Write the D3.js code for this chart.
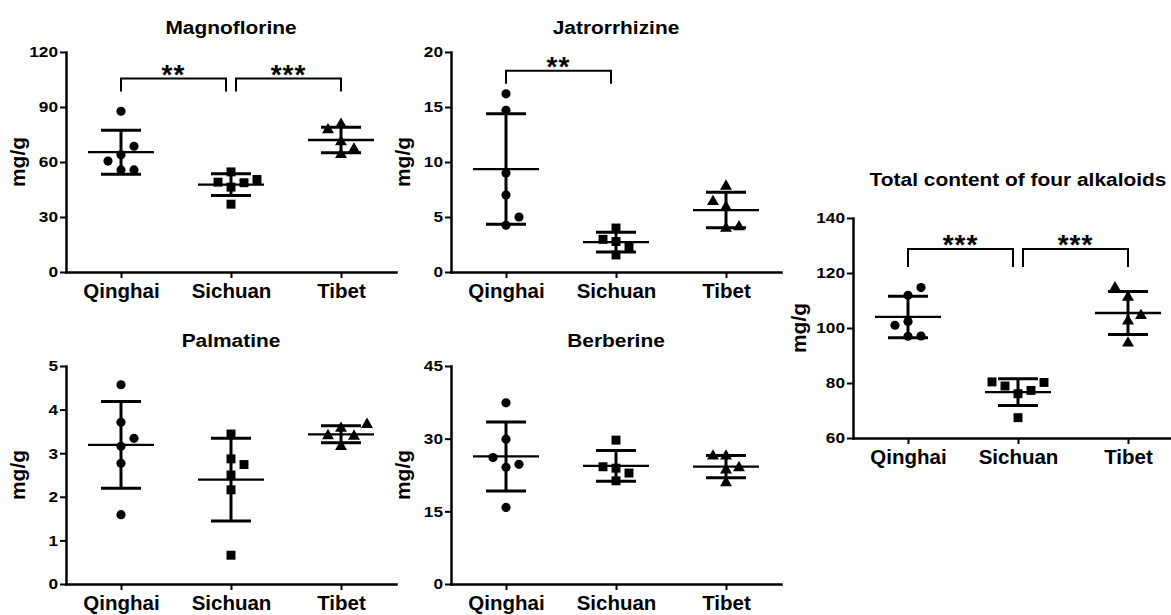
<!DOCTYPE html>
<html>
<head>
<meta charset="utf-8">
<script src="https://cdn.jsdelivr.net/npm/d3@7"></script>
<style>
  body { margin: 0; background: #fff; }
  text { font-family: Arial, "Liberation Sans", sans-serif; font-weight: bold; fill: #000; }
</style>
</head>
<body>
<svg id="chart" width="1171" height="615"></svg>
<script>
// categories
const regions = ["Qinghai", "Sichuan", "Tibet"];

// content (mg/g) per sample, one list per region
const magnoflorine   = [[87.7, 68.6, 64.0, 60.5, 55.7, 55.7], [54.6, 50.5, 49.0, 48.7, 46.3, 37.0], [80.5, 77.5, 71.0, 67.0, 64.0]];
const jatrorrhizine  = [[16.2, 14.7, 9.0, 7.0, 5.0, 4.25], [4.0, 2.97, 2.77, 2.3, 1.55], [7.8, 6.4, 5.9, 4.1, 3.97]];
const palmatine      = [[4.57, 3.71, 3.34, 3.16, 2.77, 1.59], [3.44, 2.87, 2.74, 2.5, 2.16, 0.66], [3.66, 3.57, 3.40, 3.39, 3.15]];
const berberine      = [[37.4, 29.9, 26.1, 24.7, 24.1, 15.8], [29.7, 24.2, 23.9, 22.9, 21.3], [26.4, 26.4, 24.0, 23.5, 20.9]];
const totalAlkaloids = [[114.7, 111.9, 102.4, 101.0, 97.1, 97.0], [80.4, 80.2, 78.9, 77.3, 76.1, 67.4], [114.6, 111.2, 104.5, 102.5, 94.5]];

// y tick labels
const magTicks = [0, 30, 60, 90, 120];
const jatTicks = [0, 5, 10, 15, 20];
const palTicks = [0, 1, 2, 3, 4, 5];
const berTicks = [0, 15, 30, 45];
const totTicks = [60, 80, 100, 120, 140];

// significance: [from, to, label, bracket level]
const magSig = [[0, 1, "**", 105.5], [1, 2, "***", 105.5]];
const jatSig = [[0, 1, "**", 18.3]];
const totSig = [[0, 1, "***", 128.7], [1, 2, "***", 128.7]];

const symbols = [d3.symbolCircle, d3.symbolSquare, d3.symbolTriangle];
const symbolSizes = [66, 80, 62];

const panels = [
  { title: "Magnoflorine", data: magnoflorine, ticks: magTicks, sig: magSig, x: [66, 396], y: [272, 52], titleY: 34, labelX: 25, leg: 13 },
  { title: "Jatrorrhizine", data: jatrorrhizine, ticks: jatTicks, sig: jatSig, x: [451, 781], y: [272, 52], titleY: 34, labelX: 410, leg: 13 },
  { title: "Palmatine", data: palmatine, ticks: palTicks, sig: [], x: [66, 396], y: [584, 366], titleY: 347, labelX: 25 },
  { title: "Berberine", data: berberine, ticks: berTicks, sig: [], x: [451, 781], y: [584, 366], titleY: 347, labelX: 410 },
  { title: "Total content of four alkaloids", data: totalAlkaloids, ticks: totTicks, sig: totSig, x: [853, 1183], y: [438, 218], titleY: 186, labelX: 806, leg: 18 }
];

const slotW = 13;    // horizontal step between side-by-side points
const minGap = 12;   // vertical distance below which points collide
const wide = 1.15;   // GraphPad text is a little wider than Liberation

// simple beeswarm: centre first, then the emptier side
function swarm(values, y) {
  const pts = values.map(v => ({ v: v, py: y(v) })).sort((a, b) => a.v - b.v);
  const placed = [];
  pts.forEach(p => {
    const free = k => placed.every(q => q.k !== k || Math.abs(q.py - p.py) >= minGap);
    let k = 0;
    if (!free(0)) {
      for (let d = 1; d < 10; d++) {
        const nL = placed.filter(q => q.k < 0).length;
        const nR = placed.filter(q => q.k > 0).length;
        const order = nL < nR ? [-d, d] : [d, -d];
        const hit = order.find(free);
        if (hit !== undefined) { k = hit; break; }
      }
    }
    p.k = k;
    placed.push(p);
  });
  return placed;
}

const svg = d3.select("#chart");

panels.forEach(p => {
  const g = svg.append("g");
  const x = d3.scalePoint().domain(regions).range(p.x).padding(0.5);
  const y = d3.scaleLinear().domain([p.ticks[0], p.ticks[p.ticks.length - 1]]).range(p.y);

  // axes
  const yAxis = g.append("g")
    .attr("transform", `translate(${p.x[0]},0)`)
    .call(d3.axisLeft(y).tickValues(p.ticks).tickFormat(d3.format("d")).tickSize(6).tickSizeOuter(0).tickPadding(2));
  const xAxis = g.append("g")
    .attr("transform", `translate(0,${p.y[0]})`)
    .call(d3.axisBottom(x).tickSize(6).tickSizeOuter(0).tickPadding(4));
  [yAxis, xAxis].forEach(a => {
    a.select(".domain").attr("stroke", "#000").attr("stroke-width", 2.5).attr("stroke-linecap", "square");
    a.selectAll(".tick line").attr("stroke", "#000").attr("stroke-width", 2);
  });
  yAxis.selectAll(".tick text")
    .attr("font-size", 15).attr("font-family", null)
    .attr("x", -8 / wide)
    .attr("transform", `scale(${wide},1)`);
  xAxis.selectAll(".tick text")
    .attr("font-size", 20.5).attr("font-family", null).attr("dy", "0.8em");

  // title and axis label
  g.append("text")
    .attr("transform", `translate(${x(regions[1])},${p.titleY}) scale(1.1,1)`)
    .attr("text-anchor", "middle")
    .attr("font-size", 19)
    .text(p.title);
  g.append("text")
    .attr("transform", `translate(${p.labelX},${(p.y[0] + p.y[1]) / 2}) rotate(-90)`)
    .attr("text-anchor", "middle")
    .attr("font-size", 21)
    .text("mg/g");

  // points, mean and SD
  p.data.forEach((vals, i) => {
    const cx = x(regions[i]);
    const grp = g.append("g");
    grp.selectAll("path.pt")
      .data(swarm(vals, y))
      .join("path")
      .attr("class", "pt")
      .attr("transform", d => `translate(${cx + d.k * slotW},${d.py})`)
      .attr("d", d3.symbol().type(symbols[i]).size(symbolSizes[i]))
      .attr("fill", "#000");

    const m = d3.mean(vals), sd = d3.deviation(vals);
    grp.append("line")
      .attr("x1", cx - 33).attr("x2", cx + 33)
      .attr("y1", y(m)).attr("y2", y(m))
      .attr("stroke", "#000").attr("stroke-width", 2.3);
    grp.append("line")
      .attr("x1", cx).attr("x2", cx)
      .attr("y1", y(m + sd)).attr("y2", y(m - sd))
      .attr("stroke", "#000").attr("stroke-width", 3);
    [m + sd, m - sd].forEach(v => {
      grp.append("line")
        .attr("x1", cx - 20).attr("x2", cx + 20)
        .attr("y1", y(v)).attr("y2", y(v))
        .attr("stroke", "#000").attr("stroke-width", 3);
    });
  });

  // significance brackets
  p.sig.forEach(s => {
    const xa = x(regions[s[0]]) + (s[0] > 0 ? 5 : 0);
    const xb = x(regions[s[1]]) - (s[1] < regions.length - 1 ? 5 : 0);
    const yb = y(s[3]);
    g.append("path")
      .attr("d", `M${xa},${yb + p.leg}V${yb}H${xb}V${yb + p.leg}`)
      .attr("fill", "none")
      .attr("stroke", "#000")
      .attr("stroke-width", 2);
    g.append("text")
      .attr("x", (xa + xb) / 2)
      .attr("y", yb + 5)
      .attr("text-anchor", "middle")
      .attr("font-size", 28)
      .attr("font-weight", "normal")
      .attr("letter-spacing", 1)
      .text(s[2]);
  });
});
</script>
</body>
</html>
